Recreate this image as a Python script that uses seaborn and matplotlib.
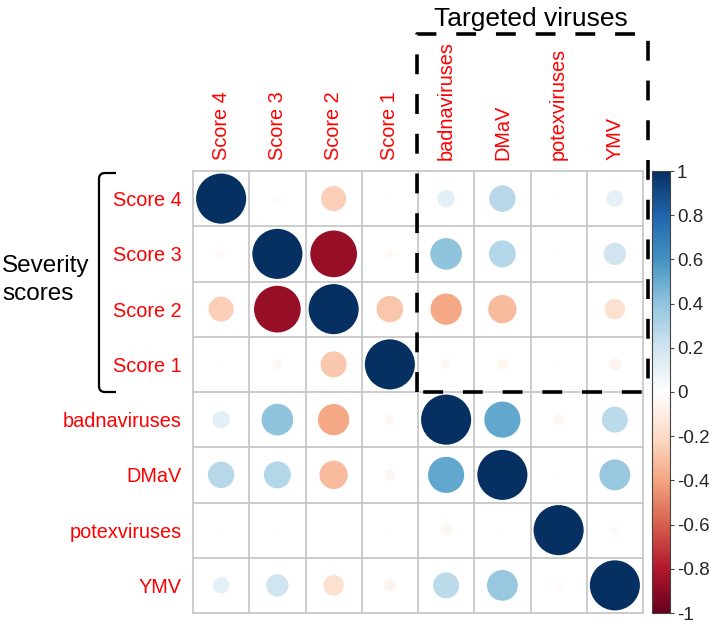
import numpy as np
import pandas as pd
import matplotlib
matplotlib.use("Agg")
import matplotlib.pyplot as plt
import seaborn as sns
from matplotlib.colors import LinearSegmentedColormap, Normalize
from matplotlib.cm import ScalarMappable
from matplotlib.path import Path
from matplotlib.patches import PathPatch

# variables, in plot order
labels = ["Score 4", "Score 3", "Score 2", "Score 1",
          "badnaviruses", "DMaV", "potexviruses", "YMV"]

# correlation rows
r_score4 = [1.00, -0.03, -0.25, -0.01, 0.12, 0.28, 0.01, 0.11]
r_score3 = [-0.03, 1.00, -0.87, -0.03, 0.40, 0.29, 0.01, 0.20]
r_score2 = [-0.25, -0.87, 1.00, -0.28, -0.39, -0.32, 0.00, -0.17]
r_score1 = [-0.01, -0.04, -0.27, 1.00, -0.04, -0.05, -0.01, -0.06]
r_badna = [0.12, 0.40, -0.39, -0.04, 1.00, 0.52, -0.05, 0.27]
r_dmav = [0.28, 0.29, -0.32, -0.05, 0.52, 1.00, 0.01, 0.38]
r_potex = [0.01, 0.01, 0.00, -0.01, -0.05, 0.01, 1.00, -0.03]
r_ymv = [0.11, 0.20, -0.17, -0.06, 0.27, 0.38, -0.03, 1.00]
corr_rows = [r_score4, r_score3, r_score2, r_score1,
             r_badna, r_dmav, r_potex, r_ymv]

cbar_ticks = [-1, -0.8, -0.6, -0.4, -0.2, 0, 0.2, 0.4, 0.6, 0.8, 1]

W, H = 709, 626


def fx(x):
    return x / W


def fy(y):
    return 1 - y / H


# long table for seaborn
records = []
for i, row in enumerate(corr_rows):
    for j, v in enumerate(row):
        records.append({"col": j, "row": i, "r": v, "absr": abs(v)})
df = pd.DataFrame(records)

sns.set_theme(style="white")
plt.rcParams["font.family"] = ["Liberation Sans", "DejaVu Sans"]
plt.rcParams["axes.unicode_minus"] = False

cmap = LinearSegmentedColormap.from_list("corr_rdbu", [
    "#67001F", "#B2182B", "#D6604D", "#F4A582", "#FDDBC7", "#FFFFFF",
    "#D1E5F0", "#92C5DE", "#4393C3", "#2166AC", "#053061"])

fig = plt.figure(figsize=(W / 100, H / 100), dpi=100)
ax = fig.add_axes([fx(193), fy(613), (643 - 193) / W, (613 - 171) / H])

sns.scatterplot(
    data=df, x="col", y="row", hue="r", size="absr",
    palette=cmap, hue_norm=(-1, 1),
    sizes=(0, 1300), size_norm=(0, 1),
    edgecolor="none", linewidth=0, legend=False, ax=ax, zorder=3)

n = len(labels)
ax.set_xlim(-0.5, n - 0.5)
ax.set_ylim(n - 0.5, -0.5)
ax.set_xlabel("")
ax.set_ylabel("")

# cell borders
for k in np.arange(-0.5, n, 1.0):
    ax.axhline(k, color="#C4C4C4", lw=1.2, zorder=1, clip_on=False)
    ax.axvline(k, color="#C4C4C4", lw=1.2, zorder=1, clip_on=False)
for s in ax.spines.values():
    s.set_visible(False)

ax.xaxis.tick_top()
ax.set_xticks(range(n))
ax.set_xticklabels(labels, rotation=90, color="red", fontsize=14.3)
ax.set_yticks(range(n))
ax.set_yticklabels(labels, color="red", fontsize=14.3)
ax.tick_params(axis="both", length=0, pad=8)

# colour bar
cax = fig.add_axes([fx(652), fy(613), 18 / W, (613 - 171) / H])
cb = fig.colorbar(ScalarMappable(norm=Normalize(-1, 1), cmap=cmap),
                  cax=cax, ticks=cbar_ticks)
cb.ax.set_yticklabels([f"{t:g}" for t in cbar_ticks], fontsize=13.5)
cb.ax.tick_params(length=3, width=0.8, color="#444444", pad=2)
cb.outline.set_edgecolor("#444444")
cb.outline.set_linewidth(0.8)

# dashed box around targeted viruses
box_x = [fx(417), fx(417), fx(648), fx(648), fx(417)]
box_y = [fy(392), fy(34), fy(34), fy(392), fy(392)]
fig.add_artist(plt.Line2D(box_x, box_y, color="black", lw=2.6,
                          linestyle=(0, (5.5, 5.5)), transform=fig.transFigure))
fig.text(fx(531), fy(19), "Targeted viruses", fontsize=19,
         ha="center", va="center", color="black")

# bracket for severity scores
bracket_pts = [(116, 173), (105, 173), (99, 173), (99, 179),
               (99, 386), (99, 392), (105, 392), (116, 392)]
bracket_codes = [Path.MOVETO, Path.LINETO, Path.CURVE3, Path.CURVE3,
                 Path.LINETO, Path.CURVE3, Path.CURVE3, Path.LINETO]
bracket = Path([(fx(x), fy(y)) for x, y in bracket_pts], bracket_codes)
fig.add_artist(PathPatch(bracket, facecolor="none", edgecolor="black",
                         lw=1.6, transform=fig.transFigure))
fig.text(fx(2), fy(280), "Severity\nscores", fontsize=17.5,
         ha="left", va="center", color="black", linespacing=1.4)

fig.savefig("out.png", dpi=100)
